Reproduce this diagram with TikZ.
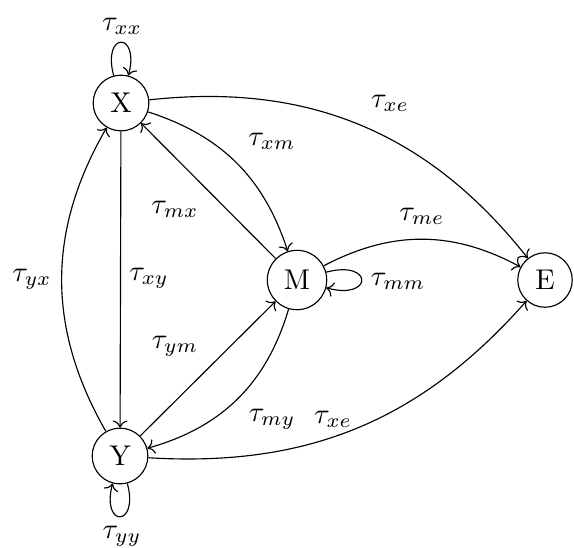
\documentclass[tikz,border=0pt]{standalone}
\usetikzlibrary{arrows.meta}
\begin{document}
\begin{tikzpicture}[x=0.35pt, y=-0.35pt,
  state/.style={circle, draw, line width=0.4pt},
  trans/.style={->, line width=0.4pt},
  lbl/.style={inner sep=0pt}]
\useasboundingbox (0,0) rectangle (574,547);

% states
\node[state] (X) at (121,103) {X};
\node[state] (Y) at (120,456) {Y};
\node[state] (M) at (297,280) {M};
\node[state] (E) at (545,280) {E};

% transitions
\draw[trans] (X) to[loop above] (X);
\draw[trans] (Y) to[loop below] (Y);
\draw[trans] (M) to[loop right] (M);
\draw[trans] (X) to[bend left=29] (E);
\draw[trans] (X) to[bend left=27] (M);
\draw[trans] (M) -- (X);
\draw[trans] (X) -- (Y);
\draw[trans] (Y) to[bend left=30] (X);
\draw[trans] (Y) -- (M);
\draw[trans] (M) to[bend left=29] (Y);
\draw[trans] (M) to[bend left=28] (E);
\draw[trans] (Y) to[bend right=26] (E);

% rates
\node[lbl] (lxx) at (122,26) {$\tau_{xx}$};
\node[lbl] (lyy) at (122,536) {$\tau_{yy}$};
\node[lbl] (lmm) at (398,281) {$\tau_{mm}$};
\node[lbl] (lxe) at (390,103) {$\tau_{xe}$};
\node[lbl] (lxm) at (272,141) {$\tau_{xm}$};
\node[lbl] (lmx) at (175,209) {$\tau_{mx}$};
\node[lbl] (lme) at (422,216) {$\tau_{me}$};
\node[lbl] (lyx) at (32,279) {$\tau_{yx}$};
\node[lbl] (lxy) at (149,278) {$\tau_{xy}$};
\node[lbl] (lym) at (175,346) {$\tau_{ym}$};
\node[lbl] (lmy) at (272,419) {$\tau_{my}$};
\node[lbl] (lye) at (333,419) {$\tau_{xe}$};
\end{tikzpicture}
\end{document}
